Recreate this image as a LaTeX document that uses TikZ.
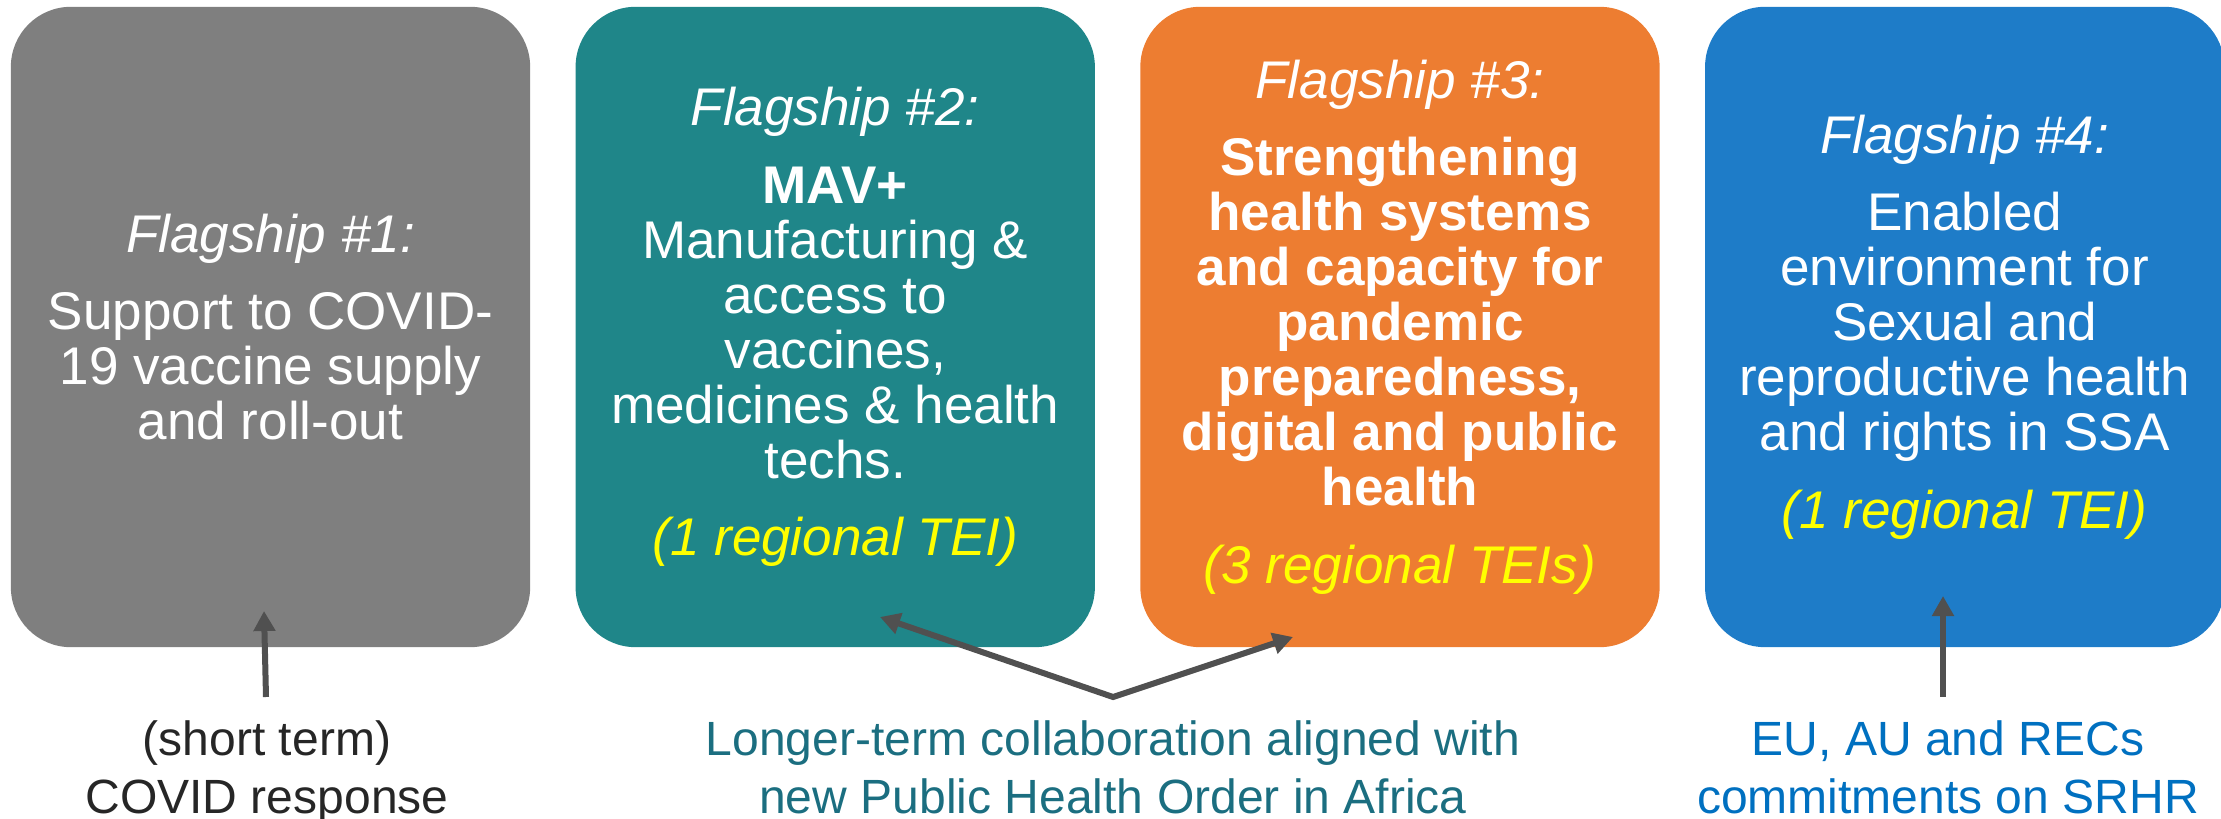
\documentclass[tikz,border=0pt]{standalone}
\usepackage{fontspec}
\setmainfont{Liberation Sans}
\usetikzlibrary{positioning, arrows.meta}

\definecolor{flaggray}{HTML}{7F7F7F}
\definecolor{flagteal}{HTML}{1F8689}
\definecolor{flagorange}{HTML}{ED7D31}
\definecolor{flagblue}{HTML}{1E7CC8}
\definecolor{teiyellow}{HTML}{FFFF00}
\definecolor{notedark}{HTML}{262626}
\definecolor{noteteal}{HTML}{1B6E80}
\definecolor{noteblue}{HTML}{0070C0}
\definecolor{arrowgray}{HTML}{505050}

\begin{document}
\begin{tikzpicture}[x=0.01cm, y=-0.01cm, % one unit per pixel, y going down
    flagbox/.style={rectangle, rounded corners=0.6cm, minimum width=5.19cm, minimum height=6.4cm,
        inner sep=0pt, text=white, align=center, font=\fontsize{15.08pt}{15.65pt}\selectfont},
    note/.style={inner sep=0pt, align=center, anchor=north, font=\fontsize{13.66pt}{16.5pt}\selectfont},
    flagtip/.tip={Triangle[length=0.2cm, width=0.21cm]},
    pointer/.style={-flagtip, line width=0.06cm, draw=arrowgray},
    node distance=0.44cm]
    \useasboundingbox (0,0) rectangle (2221,819);

    % Flagship 1
    \node[flagbox, fill=flaggray] (box1) at (270.5,327) {\textit{Flagship \#1:}\\[6.4pt]
        Support to COVID-\\19 vaccine supply\\and roll-out};

    % Flagship 2
    \node[flagbox, fill=flagteal, right=of box1] (box2) {\textit{Flagship \#2:}\\[6.4pt]
        \textbf{MAV+}\\Manufacturing \&\\access to\\vaccines,\\medicines \& health\\techs.\\[6.3pt]
        \textcolor{teiyellow}{\textit{(1 regional TEI)}}};

    % Flagship 3
    \node[flagbox, fill=flagorange, right=of box2] (box3) {\textit{Flagship \#3:}\\[6.4pt]
        \textbf{Strengthening}\\\textbf{health systems}\\\textbf{and capacity for}\\\textbf{pandemic}\\
        \textbf{preparedness,}\\\textbf{digital and public}\\\textbf{health}\\[6.3pt]
        \textcolor{teiyellow}{\textit{(3 regional TEIs)}}};

    % Flagship 4
    \node[flagbox, fill=flagblue, right=of box3] (box4) {\textit{Flagship \#4:}\\[6.4pt]
        Enabled\\environment for\\Sexual and\\reproductive health\\and rights in SSA\\[6.3pt]
        \textcolor{teiyellow}{\textit{(1 regional TEI)}}};

    % Notes below the boxes
    \node[note, text=notedark] (short) at (267,719.5) {(short term)\\COVID response};
    \node[note, text=noteteal] (longer) at (1113,719.5) {Longer-term collaboration aligned with\\new Public Health Order in Africa};
    \node[note, text=noteblue] (srhr) at (1948,719.5) {EU, AU and RECs\\commitments on SRHR};

    % Arrow ends
    \coordinate (tail1) at (266,697);
    \coordinate (tip1) at (264,611);
    \coordinate (fork) at (1113,697);
    \coordinate (tip2) at (880,617);
    \coordinate (tip3) at (1293,637);
    \coordinate (tail4) at (1943,697);
    \coordinate (tip4) at (1943,596);

    % Arrows
    \draw[pointer] (tail1) -- (tip1);
    \draw[pointer, flagtip-flagtip, miter limit=20] (tip2) -- (fork) -- (tip3);
    \draw[pointer] (tail4) -- (tip4);
\end{tikzpicture}
\end{document}
